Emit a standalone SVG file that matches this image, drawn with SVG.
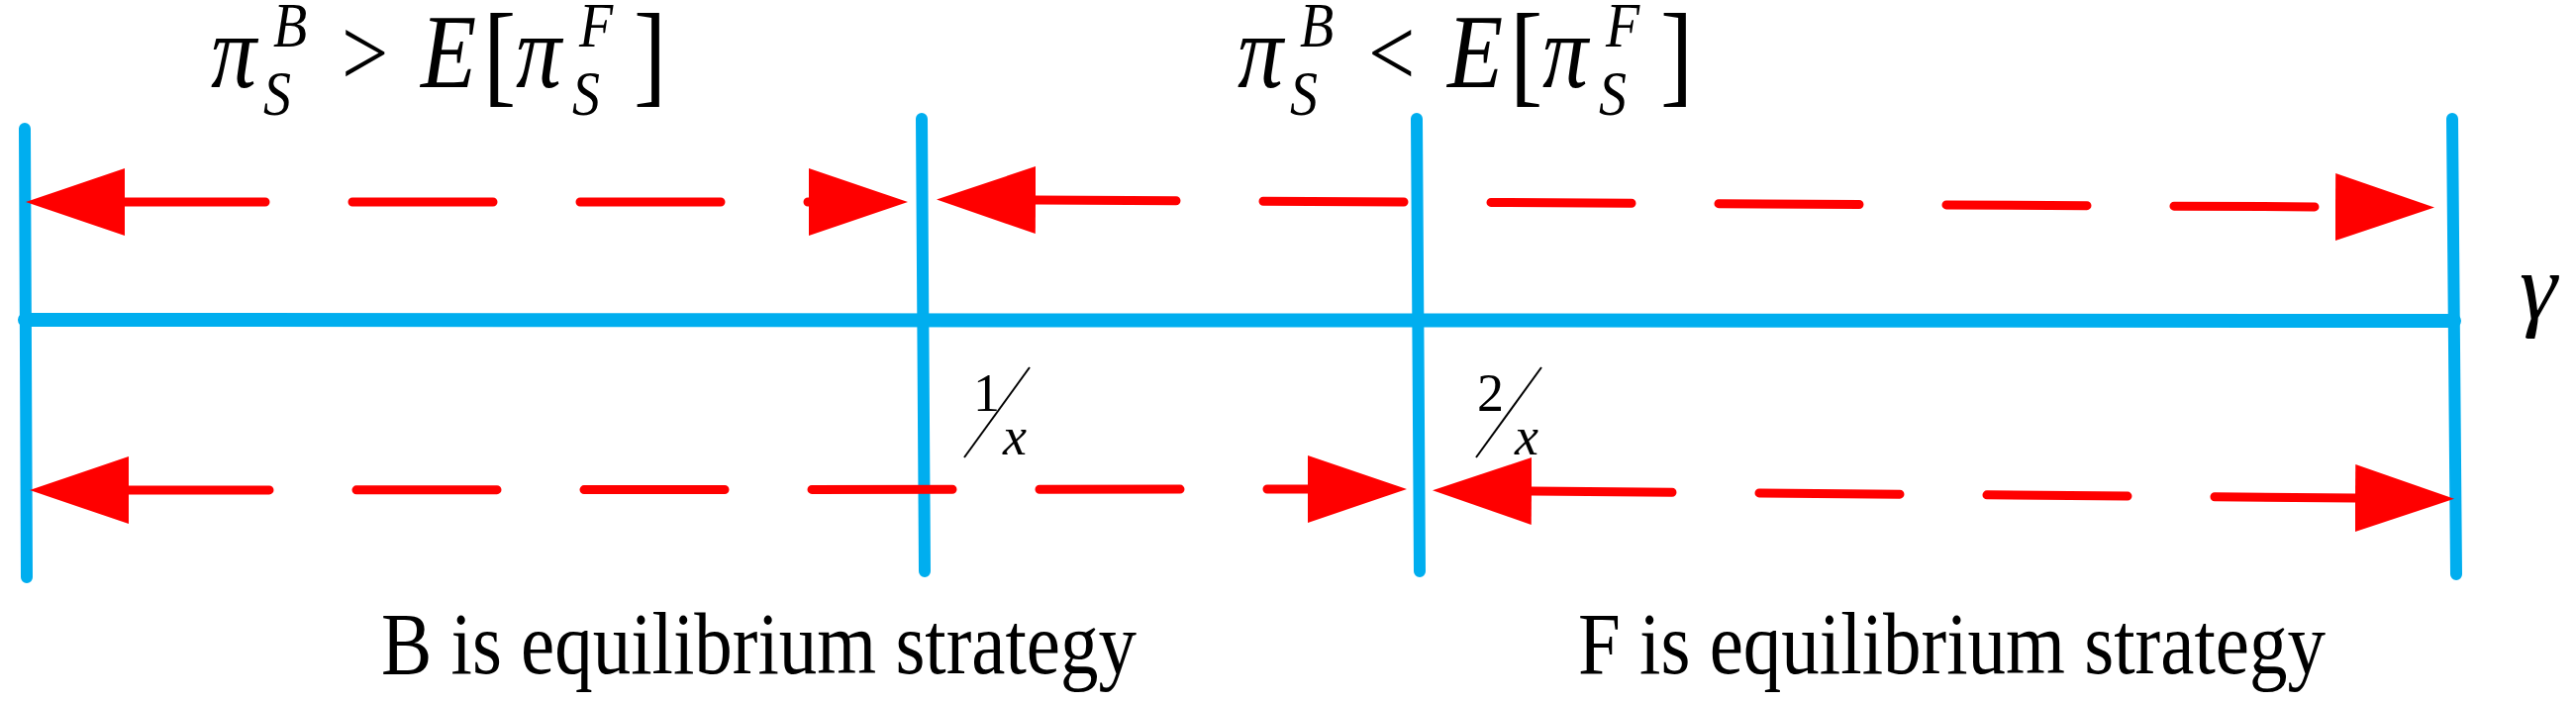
<svg xmlns="http://www.w3.org/2000/svg" width="2602" height="710" viewBox="0 0 2602 710">
<style>
.ax{stroke:#00AEEF;stroke-width:12;stroke-linecap:round;fill:none}
.dl{stroke:#FF0000;stroke-width:9;stroke-linecap:round;fill:none;stroke-dasharray:142 88;marker-start:url(#ah);marker-end:url(#ah)}
.m{font-family:"Liberation Serif","Times New Roman","DejaVu Serif",serif;font-style:italic;fill:#000}
.n{font-style:normal}
.t{font-family:"Liberation Serif","Times New Roman","DejaVu Serif",serif;fill:#000;font-size:74px}
</style>
<defs>
<marker id="ah" markerUnits="userSpaceOnUse" markerWidth="110" markerHeight="80" viewBox="0 -40 110 80" refX="0" refY="0" orient="auto-start-reverse"><path d="M0,-34 L100,0 L0,34 z" fill="#FF0000"/></marker>
</defs>
<g id="axes">
<line class="ax" x1="25" y1="130" x2="27" y2="583"/>
<line class="ax" x1="931" y1="120" x2="934" y2="577"/>
<line class="ax" x1="1431" y1="120" x2="1434" y2="577"/>
<line class="ax" x1="2477" y1="120" x2="2481" y2="580"/>
<line class="ax" x1="25" y1="323" x2="2479" y2="324" style="stroke-width:14"/>
</g>
<g id="connectors">
<path class="dl" d="M126,204 L817,204"/>
<path class="dl" d="M1046,202 L2359,209"/>
<path class="dl" d="M130,495 L1321,494"/>
<path class="dl" d="M1547,496 L2379,503"/>
</g>
<g id="label-left" transform="translate(0,88) scale(1,1.15) translate(0,-88)">
<text class="m" x="213" y="88" font-size="92">π</text>
<text class="m" x="276" y="52" font-size="56">B</text>
<text class="m" x="266" y="112" font-size="56">S</text>
<text class="m n" x="345" y="86" font-size="84">&gt;</text>
<text class="m" x="425" y="88" font-size="92">E</text>
<text class="m n" x="488" y="92" font-size="100">[</text>
<text class="m" x="521" y="88" font-size="92">π</text>
<text class="m" x="585" y="52" font-size="56">F</text>
<text class="m" x="578" y="112" font-size="56">S</text>
<text class="m n" x="640" y="92" font-size="100">]</text>
</g>
<g id="label-right" transform="translate(0,88) scale(1,1.15) translate(0,-88)">
<text class="m" x="1250" y="88" font-size="92">π</text>
<text class="m" x="1313" y="52" font-size="56">B</text>
<text class="m" x="1303" y="112" font-size="56">S</text>
<text class="m n" x="1382" y="86" font-size="84">&lt;</text>
<text class="m" x="1462" y="88" font-size="92">E</text>
<text class="m n" x="1525" y="92" font-size="100">[</text>
<text class="m" x="1558" y="88" font-size="92">π</text>
<text class="m" x="1622" y="52" font-size="56">F</text>
<text class="m" x="1615" y="112" font-size="56">S</text>
<text class="m n" x="1677" y="92" font-size="100">]</text>
</g>
<g id="gamma"><text class="m" x="2545" y="322" font-size="96">γ</text></g>
<g id="frac1">
<text class="m n" x="983" y="415" font-size="54">1</text>
<line x1="1040" y1="371" x2="974" y2="462" stroke="#000" stroke-width="2"/>
<text class="m" x="1013" y="459" font-size="54">x</text>
</g>
<g id="frac2">
<text class="m n" x="1492" y="415" font-size="54">2</text>
<line x1="1557" y1="371" x2="1491" y2="462" stroke="#000" stroke-width="2"/>
<text class="m" x="1530" y="459" font-size="54">x</text>
</g>
<g id="caption-b" transform="translate(0,680) scale(1,1.2) translate(0,-680)"><text class="t" x="385" y="680" textLength="763" lengthAdjust="spacingAndGlyphs">B is equilibrium strategy</text></g>
<g id="caption-f" transform="translate(0,680) scale(1,1.2) translate(0,-680)"><text class="t" x="1594" y="680" textLength="755" lengthAdjust="spacingAndGlyphs">F is equilibrium strategy</text></g>
</svg>
